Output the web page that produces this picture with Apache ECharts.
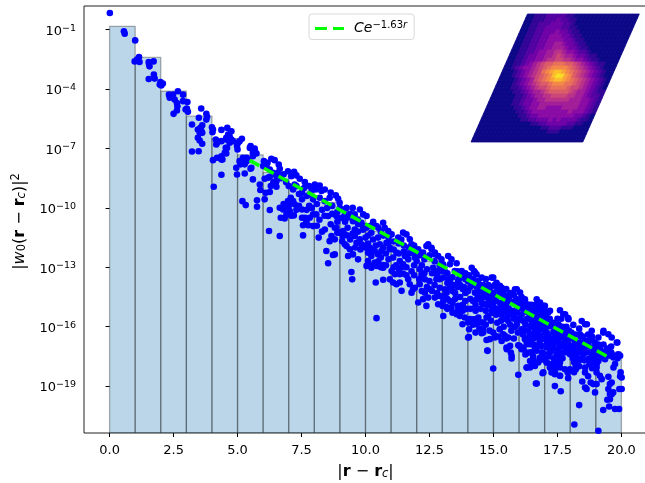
<!DOCTYPE html>
<html><head><meta charset="utf-8">
<style>html,body{margin:0;padding:0;background:#fff;overflow:hidden}#c{width:645px;height:483px}</style>
<script src="https://cdn.jsdelivr.net/npm/echarts@6/dist/echarts.min.js"></script>
</head><body><div id="c"></div>
<script>
const binLeftEdges=[0,1,2,3,4,5,6,7,8,9,10,11,12,13,14,15,16,17,18,19];
const binTopExp=[-0.83,-2.40,-4.11,-5.37,-6.5,-7.32,-8.21,-8.97,-9.72,-10.43,-11.19,-11.89,-12.7,-13.35,-14.16,-14.77,-15.47,-16.18,-16.78,-17.29];
const fitR=[5.47,19.5];
const fitExp=[-7.6,-17.54];
const xTicks=[0,2.5,5,7.5,10,12.5,15,17.5,20];
const yTickExp=[-1,-4,-7,-10,-13,-16,-19];
const scatterLow=[[0.01,-0.16],[0.56,-1.08],[0.59,-1.2],[1.0,-1.54],[0.98,-2.6],[1.15,-2.38],[1.17,-2.63],[1.07,-2.51],[1.53,-2.63],[1.72,-2.6],[1.56,-2.85],[1.54,-2.73],[1.53,-3.49],[1.73,-3.27],[1.76,-3.47],[1.99,-3.64],[2.08,-3.72],[2.02,-3.82],[1.96,-3.77],
[2.67,-4.11],[2.87,-4.28],[2.32,-4.28],[2.39,-4.31],[2.48,-4.28],[2.35,-4.44],[2.54,-4.53],[2.63,-4.7],[2.65,-4.87],[2.63,-5.08],[2.5,-5.25],[2.87,-4.61],[3.04,-4.65],[3.02,-4.98],[3.06,-5.15],[2.97,-5.03],
[3.58,-4.98],[3.49,-5.45],[3.78,-5.25],[3.81,-5.4],[3.78,-5.54],[3.22,-5.79],[3.62,-5.83],[3.55,-5.96],[3.45,-6.04],[3.58,-6.09],[3.52,-6.21],[3.62,-6.21],[3.45,-6.46],[3.52,-6.6],[3.62,-6.76],[3.22,-7.15],[3.48,-7.14],
[4.0,-5.93],[4.04,-6.04],[4.02,-6.18],[4.37,-6.06],[4.6,-5.96],[4.15,-6.55],[4.2,-6.71],[4.37,-6.63],[4.56,-6.46],[4.63,-6.3],[4.54,-6.97],[4.5,-7.22],[4.37,-7.39],[4.37,-7.56],[4.2,-7.47],[4.04,-7.59],[4.37,-8.33],[4.07,-8.93],[4.76,-6.13],[4.69,-6.38],[4.56,-6.55],[4.76,-6.55],[4.17,-6.8],[4.69,-6.71],[4.59,-6.97],[4.56,-7.25],[4.41,-7.56],
[5.02,-6.71],[4.98,-6.88],[5.17,-6.51],[5.48,-6.97],[5.67,-7.0],[5.6,-7.22],[5.74,-7.25],[5.21,-7.47],[5.35,-7.47],[5.15,-7.72],[5.28,-7.72],[5.41,-7.56],[5.54,-7.97],[4.95,-7.97],[4.98,-8.31],[5.28,-8.26],[5.6,-8.56],[5.87,-8.82],[5.89,-9.1],[5.19,-9.66],[5.32,-9.86],[5.76,-9.62],[5.76,-9.94],[6.1,-9.24],[6.06,-9.57],[6.26,-9.2],[4.82,-6.63],[5.08,-6.63],[5.0,-7.05],[5.51,-6.88],[5.64,-7.05],[5.71,-7.22],[5.6,-7.39],[5.08,-7.64],[5.35,-7.64],[5.12,-7.8],[5.28,-7.8],[5.51,-8.02],[6.26,-10.11],[6.23,-11.17],[6.65,-11.42],
[6.03,-7.64],[6.17,-7.72],[6.32,-7.52],[6.45,-7.59],[6.61,-7.81],[6.65,-8.02],[6.0,-7.89],[6.13,-7.89],[6.26,-8.06],[6.39,-8.23],[6.52,-8.4],[6.58,-8.23],[6.52,-8.65],[6.52,-8.93],[6.26,-8.43],[6.06,-8.53],[6.19,-8.48],
[6.97,-8.15],[7.21,-8.18],[7.3,-8.36],[7.43,-8.53],[7.23,-8.82],[7.63,-8.7],[7.17,-9.07],[7.52,-9.23],[7.52,-9.57],[7.08,-9.49],[7.17,-9.66],[6.97,-9.66],[7.23,-9.82],[6.91,-9.99],[6.65,-9.99],[6.78,-10.08],[7.04,-10.16],[6.91,-10.33],[7.2,-10.38],[6.69,-10.5],[6.84,-10.53],[7.52,-10.08],[7.52,-10.5],[7.56,-11.39],
[6.3,-8.9],[6.4,-8.7],[6.7,-8.5],[6.8,-8.3],[6.9,-8.7],[7.0,-8.9],[7.1,-8.4],[7.3,-8.9],[7.4,-9.3],[7.6,-9.0],[7.8,-8.9],[7.9,-9.1],[7.4,-9.9],[7.3,-10.1],[7.0,-9.9],[6.8,-9.8],[7.1,-10.4],[7.7,-10.1]];
const scatterMid=[[8.02,-8.82],[8.06,-9.07],[8.28,-9.15],[7.82,-9.32],[7.95,-9.57],[8.21,-9.49],[8.41,-9.66],[8.6,-9.49],[7.56,-10.88],[7.69,-10.67],[7.76,-10.88],[7.95,-10.33],[8.08,-10.33],[7.63,-10.5],[7.82,-10.5],[7.95,-10.92],[8.17,-11.5],[8.47,-12.18],[8.73,-12.38],[8.54,-12.8],[8.41,-11.09],[8.54,-10.41],[8.64,-10.83],[8.8,-11.0],[8.67,-11.42],[8.6,-11.68],[8.8,-11.59],[8.99,-11.25],[8.93,-9.54],[8.99,-9.74],[9.19,-10.08],[9.06,-10.5],[9.12,-11.42],[9.19,-11.84],[8.21,-8.87],[8.41,-9.07],[8.64,-9.22],[8.84,-9.37],
[9.26,-10],[9.19,-10.33],[8.86,-10.41],[8.86,-11],[8.9,-11.25],[9.12,-11.17],[9.19,-11.34],[9.09,-11.68],[9.26,-11.93],[8.8,-12.35],[9.32,-12.43],[9.51,-12.35],[9.71,-12.6],[9.45,-13.24],[9.48,-13.61],[10.43,-15.57],
[9.58,-10.33],[9.78,-10.08],[9.91,-10.33],[10.04,-10.41],[9.51,-10.67],[9.58,-11.09],[9.71,-10.83],[9.84,-10.75],[9.58,-11.42],[9.78,-11.59],[9.65,-11.76],[9.84,-11.84],[9.39,-12.09],
[9.91,-10.92],[10.04,-11],[10.23,-11.25],[10.49,-11.5],[10.69,-10.75],[10.75,-11],[10.89,-11.17],[10.43,-10.92],[10.17,-12.01],[10.1,-12.26],[10.36,-12.18],[10.56,-11.84],[10.49,-12.35],[10.23,-12.43],[10.1,-12.68],[10.04,-12.93],[10.23,-13.02],[10.43,-12.93],[10.36,-12.76],[10.62,-12.18],[10.89,-11.76],[10.95,-12.09],[10.69,-13.02],[10.69,-12.89],[10.4,-13.77],[10.69,-13.63],
[11.02,-11.34],[11.28,-11.5],[11.47,-11.25],[11.6,-11.34],[11.73,-11.59],[11.8,-11.84],[10.82,-11.76],[10.95,-12.01],[11.21,-12.26],[11.08,-12.51],[11.34,-12.68],[11.54,-12.43],[11.67,-12.6],[11.86,-12.26],[11.93,-12.51],[11.02,-13.19],[11.15,-13.35],[11.34,-13.35],[11.47,-13.32],[10.95,-13.61],[11.08,-13.77],[11.21,-13.86],[11.34,-13.77],[11.41,-14.19],[11.67,-13.61],[11.73,-13.86],[11.47,-12.85],
[12.06,-12.09],[12.25,-12.26],[12.45,-11.84],[12.58,-12.01],[12.71,-12.26],[12.84,-12.43],[12,-12.68],[12.12,-13.1],[12.19,-13.35],[12.32,-13.61],[12.12,-13.86],[11.93,-14.03],[11.8,-14.28],[12.06,-14.78],[12.38,-14.95],[11.86,-14.11],[12.32,-14.28],[12.45,-14.53],[12.25,-14.61],[12.71,-14.53],[12.77,-13.61],[12.64,-13.02],[12.97,-12.6],[13.03,-12.85],[12.77,-13.19],[12.9,-14.03],[12.84,-14.87],[12.38,-11.93],[12.58,-12.09],[12.71,-12.35],[13.23,-12.43],[13.36,-12.6],[13.56,-12.8],[13.76,-13.19]];
const scatterHigh=[[13.04,-12.94],[13.3,-12.85],[13.49,-13.19],[13.04,-13.52],[13.1,-14.11],[12.91,-14.45],[13.04,-14.7],[13.01,-14.95],[13.04,-15.46],[13.36,-15.04],[13.62,-14.95],[13.56,-15.37],[13.69,-15.46],[13.79,-15.88],[13.88,-15.54],[14.01,-15.79],[14.05,-16.13],[14.01,-16.55],[13.17,-14.28],[13.3,-13.69],[13.62,-13.69],[13.82,-13.44],[14.15,-13.02],[14.28,-13.27],[14.54,-13.52],[14.01,-14.2],[14.28,-14.28],[14.15,-13.86],[14.47,-14.62],[14.67,-14.87],[14.21,-15.63],[14.41,-15.54],[14.54,-15.79],[14.34,-15.88],[14.6,-16.13],[14.54,-16.33],[14.73,-16.67],[14.99,-16.3],[15.06,-16.55],[14.77,-17.22],[14.99,-18.11],[14.8,-15.46],[14.93,-15.12],[14.93,-13.52],[15.12,-13.78],[15.32,-14.03],[15.06,-14.53],[15.25,-14.79],[15.45,-14.45],[15.19,-15.21],[15.38,-14.87],[15.51,-15.29],[15.64,-14.7],[15.58,-15.71],[15.25,-16.13],[15.38,-16.38],[15.58,-16.55],[15.51,-17.05],[15.68,-17.31],[15.71,-17.61],[15.32,-16.72],[15.91,-14.11],[16.04,-14.28],[16.23,-14.62],[15.84,-14.7],[15.77,-15.21],[16.04,-15.63],[15.91,-15.88],[16.3,-15.63],[16.43,-15.21],[16.1,-16.13],[16.23,-16.63],[15.97,-16.94],[16.1,-17.14],[15.97,-18.43],[16.3,-18.06],[16.43,-17.73],[16.62,-17.98],[16.69,-18.87],[16.69,-14.62],[16.36,-16.89],[16.62,-15.88],[16.75,-16.21],[16.49,-17.31],[16.17,-17.14],
[13.2,-13.3],[13.4,-13.5],[13.6,-13.2],[13.7,-13.9],[13.9,-13.6],[13.3,-14.0],[13.5,-14.3],[13.7,-14.5],[13.9,-14.3],[13.2,-14.6],[13.4,-14.8],[13.8,-14.9],[14.1,-14.6],[14.3,-14.9],[14.5,-14.2],[14.6,-13.9],[14.8,-14.2],[14.4,-13.7],[14.7,-13.6],[14.9,-14.7],[15.0,-14.3],[15.2,-14.4],[15.4,-14.2],[15.5,-14.8],[15.7,-14.4],[15.9,-14.6],[15.0,-15.0],[15.3,-15.4],[15.6,-15.1],[15.8,-15.6],[16.0,-15.1],[16.2,-15.0],[16.4,-14.9],[16.1,-14.8],
[14.24,-13.19],[14.34,-13.36],[14.99,-13.52],[15.25,-13.94],[15.84,-14.11],[16.17,-14.62],[16.82,-14.78],[17.01,-14.95],[17.21,-15.2],[17.8,-15.37],[17.93,-15.62],[18.45,-15.71],[18.65,-15.88],[18.84,-16.21],[19.3,-16.21],[19.49,-16.38],[19.62,-16.55],[19.82,-16.8],
[14.08,-15.62],[14.34,-15.62],[14.6,-15.79],[14.73,-15.54],[14.6,-16.3],[14.86,-16.63],[15.06,-16.46],[15.25,-16.13],[15.45,-16.46],[15.65,-16.97],[15.71,-17.47],[15.52,-17.14],[16.02,-16.97],[16.17,-17.05],[16.36,-17.31],[16.62,-17.94],[16.3,-18.06],[16.49,-17.81],[16.95,-17.64],[17.08,-17.81],[17.21,-18.06],[16.95,-18.31],[17.41,-18.31],[17.6,-18.48],[17.54,-17.47],[17.6,-17.81],[14.76,-17.2],[14.04,-16.53]];
const scatterTail=[[16.75,-14.95],[16.95,-14.95],[17.01,-15.2],[16.82,-15.12],[17.14,-15.29],[17.6,-15.17],[17.73,-15.37],[17.92,-15.57],[18.12,-15.91],[18.58,-15.88],[19.29,-16.3],[19.84,-16.8],[19.1,-16.55],[18.71,-16.72],[18.38,-16.38],[19.95,-17.47],[19.88,-17.39],[19.69,-17.56],[19.16,-17.22],[18.97,-17.81],[19.1,-17.73],[19.03,-18.06],[19.23,-18.65],[19.49,-18.53],[19.55,-18.9],[19.49,-19.15],[19.62,-19.41],[19.55,-19.66],[19.45,-19.69],[19.52,-20.03],[19.29,-20.21],[19.75,-20.16],[19.91,-20.16],[19.92,-19.15],[20.01,-19.15],[19.97,-18.31],[20.01,-18.57],[19.69,-18.06],[19.36,-17.64],[19.03,-18.31],[18.97,-19.32],[18.8,-18.82],[18.9,-18.9],[19.03,-18.9],[18.47,-18.77],[18.58,-19.07],[18.64,-19.15],[18.35,-19.96],[18.16,-20.94],[19.1,-21.26],[17.63,-19.26],[17.4,-19.0],[16.66,-18.87],[16.92,-18.35],[17.21,-18.06],[17.4,-18.4],[17.6,-18.48],[17.27,-18.31],[17.9,-18.31],[17.99,-18.15],[17.92,-18.6],[18.21,-17.98],[18.22,-18.15],[18.58,-18.06],[18.58,-18.31],[17.99,-17.39],[18.12,-17.05],[18.45,-17.14],[18.25,-17.56],[18.51,-17.39],[18.71,-17.64],[18.84,-17.39],[17.21,-17.3],[17.47,-17.39],[17.6,-17.64],[17.4,-17.81],[16.95,-17.64],[17.08,-17.81],[16.62,-17.89],[16.49,-17.3],[16.56,-16.89],[16.75,-16.55],[17.01,-16.63],[17.4,-16.55],[17.66,-16.97],[17.53,-16.3],[17.34,-16.3],[17.79,-16.72],[16.49,-15.88],[16.69,-16.04],[16.88,-16.13],[17.08,-16.3],[16.43,-16.38],
[19.16,-17.39],[18.97,-17.56],[19.23,-17.56],[19.55,-17.47],[19.75,-17.47],[19.75,-17.89],[19.03,-17.9],[19.16,-18.48],[19.62,-18.82],[19.55,-19.4],[19.68,-19.32],[19.95,-18.5],[18.06,-16.97],[18.19,-16.72],[18.38,-16.8],[18.58,-16.72],[17.99,-17.22],[18.12,-17.39],[18.38,-17.05],[18.71,-16.97],[18.9,-17.05],[19.1,-16.9],[18.97,-16.8],
[17.21,-16.72],[17.34,-16.9],[17.53,-16.72],[17.27,-17.22],[17.53,-17.14],[17.73,-16.88],[17.86,-17.05],[17.66,-16.55],[17.47,-17.81],[17.27,-17.89],[17.6,-18.06],[17.79,-18.15],[17.34,-18.23],[17.4,-18.06],[16.43,-16.72],[16.62,-16.55],[16.82,-16.47],[17.01,-16.3],[17.08,-17.05],[16.88,-16.97],[16.69,-17.22],[16.49,-17.73],[16.62,-17.14],[16.82,-17.56],[17.01,-17.39],[16.75,-17.81],[16.43,-18.06],[16.56,-17.64],[16.49,-15.37],[16.69,-15.54],[16.88,-15.79],[16.62,-15.29],[16.43,-15.62],[16.56,-16.04],[16.82,-16.04],[17.01,-15.88]];
const scatterDense=[[8.1,-9.8],[8.3,-10.1],[8.5,-10.0],[8.7,-9.9],[8.9,-10.2],[8.2,-10.6],[8.4,-10.4],[8.7,-10.3],[8.9,-10.7],[7.8,-9.9],[7.7,-9.4],[7.9,-10.0],[8.1,-10.9],[8.3,-11.2],
[9.0,-10.0],[9.2,-10.7],[9.3,-10.5],[9.4,-10.3],[9.5,-10.0],[9.3,-11.0],[9.5,-11.3],[9.7,-11.2],[9.9,-11.1],[10.0,-11.5],[9.4,-11.6],[9.6,-12.0],[9.8,-12.1],[10.0,-12.0],[9.3,-11.4],[9.9,-11.9],[9.7,-10.6],
[10.2,-10.9],[10.3,-10.7],[10.5,-11.0],[10.6,-11.2],[10.7,-11.4],[10.9,-11.5],[10.1,-11.4],[10.3,-11.6],[10.4,-11.9],[10.6,-12.5],[10.8,-12.3],[10.3,-12.2],[10.5,-12.7],[10.7,-12.0],[10.9,-12.6],[10.2,-12.9],[10.6,-13.0],[10.8,-12.9],[10.1,-11.8],
[11.1,-11.7],[11.3,-11.8],[11.4,-11.6],[11.5,-11.9],[11.7,-12.0],[11.9,-11.9],[11.1,-12.1],[11.3,-12.3],[11.5,-12.2],[11.7,-12.3],[11.9,-12.9],[11.2,-12.9],[11.4,-13.0],[11.6,-13.0],[11.8,-13.2],[11.9,-13.4],[11.1,-13.0],[11.6,-13.4],[11.3,-13.1],
[12.1,-12.4],[12.3,-12.6],[12.5,-12.4],[12.7,-12.7],[12.9,-12.9],[12.2,-12.9],[12.4,-13.1],[12.6,-13.3],[12.8,-13.4],[12.3,-13.3],[12.5,-13.7],[12.7,-13.9],[12.9,-13.6],[12.1,-13.6],[12.4,-14.0],[12.6,-14.2],[12.8,-14.3],[12.2,-14.2],[12.9,-13.2],[12.5,-14.1],
[13.1,-13.2],[13.2,-13.8],[13.4,-14.2],[13.6,-14.0],[13.8,-14.1],[13.9,-13.3],[13.1,-14.4],[13.3,-14.7],[13.5,-14.6],[13.7,-15.0],[13.9,-14.7],[13.2,-15.1],[13.4,-15.3],[13.6,-15.2],[13.8,-15.2],[13.95,-15.1],[13.15,-15.0],
[14.05,-13.4],[14.2,-13.6],[14.35,-14.0],[14.5,-13.9],[14.65,-14.3],[14.8,-13.9],[14.9,-14.0],[14.1,-14.0],[14.2,-14.7],[14.4,-14.4],[14.6,-14.5],[14.8,-14.6],[14.95,-15.3],[14.1,-15.1],[14.3,-15.2],[14.5,-15.1],[14.7,-15.2],[14.9,-15.7],[14.2,-15.9],[14.45,-16.1],[14.7,-15.9],[14.85,-16.2],[14.3,-16.3],
[15.05,-13.9],[15.2,-14.1],[15.35,-14.4],[15.5,-14.1],[15.65,-14.3],[15.8,-14.4],[15.95,-14.9],[15.1,-14.7],[15.3,-14.9],[15.5,-15.0],[15.7,-15.2],[15.9,-15.3],[15.1,-15.4],[15.3,-15.7],[15.45,-15.6],[15.65,-15.9],[15.85,-16.0],[15.15,-15.8],[15.4,-16.0],[15.7,-16.2],[15.95,-16.3],[15.2,-16.5],[15.5,-16.6],[15.8,-16.6],
[16.1,-14.5],[16.25,-14.8],[16.35,-15.3],[16.5,-14.9],[16.65,-14.9],[16.8,-15.4],[16.95,-15.4],[16.1,-15.4],[16.25,-15.9],[16.45,-16.0],[16.65,-15.7],[16.85,-15.7],[16.2,-16.2],[16.4,-16.5],[16.6,-16.3],[16.8,-16.8],[16.95,-16.1],[16.3,-16.8],[16.5,-16.9],[16.7,-17.0],[16.9,-17.3],[16.25,-17.4],[16.55,-17.5],[16.8,-17.7],
[17.05,-15.5],[17.2,-15.6],[17.35,-15.8],[17.5,-15.6],[17.65,-15.6],[17.85,-16.0],[17.95,-16.2],[17.1,-16.0],[17.3,-16.0],[17.45,-16.1],[17.65,-16.2],[17.8,-16.4],[17.15,-16.5],[17.25,-16.9],[17.45,-16.8],[17.6,-17.0],[17.75,-17.3],[17.9,-16.8],[17.15,-17.5],[17.35,-17.6],[17.55,-17.9],[17.7,-17.6],
[18.05,-16.3],[18.2,-16.4],[18.35,-16.1],[18.5,-16.5],[18.7,-16.4],[18.85,-16.7],[18.1,-17.6],[18.3,-17.3],[18.45,-17.6],[18.6,-17.0],[18.8,-17.8],[18.95,-17.3],[18.15,-18.3],[18.35,-18.0],[18.7,-18.5],[18.85,-18.1],[19.15,-17.0],[19.3,-16.9],[19.45,-17.1],[19.6,-17.3],[19.85,-17.6],
[13.25,-13.6],[13.45,-13.9],[13.65,-13.6],[13.85,-14.0],[14.0,-13.7],[14.25,-13.9],[14.45,-14.1],[14.65,-14.1],[14.85,-14.4],[14.35,-14.6],[14.55,-14.8],[14.75,-14.9],[14.95,-14.9],[15.15,-14.1],[15.3,-14.3],[15.45,-14.6],[15.6,-14.5],[15.75,-14.8],[15.9,-14.9],[15.15,-15.1],[15.35,-15.2],[15.55,-15.5],[15.75,-15.4],[15.95,-15.6],[16.05,-14.7],[16.2,-15.2],[16.35,-15.0],[16.5,-15.2],[16.65,-15.2],[16.8,-15.2],[16.9,-15.6],[16.15,-15.7],[16.35,-15.6],[16.55,-15.6],[16.75,-15.9],[16.9,-15.9],[16.15,-16.4],[16.35,-16.2],[16.55,-16.6],[16.75,-16.4],[16.95,-16.6],[17.1,-15.7],[17.25,-15.9],[17.4,-16.0],[17.55,-15.9],[17.7,-16.0],[17.85,-16.3],[17.95,-16.5],[17.1,-16.4],[17.3,-16.6],[17.5,-16.5],[17.7,-16.5],[17.85,-16.6],[17.1,-16.8],[17.35,-17.1],[17.55,-17.3],[17.75,-17.0],[17.9,-17.3],[18.05,-16.6],[18.2,-16.9],[18.4,-16.5],[18.55,-16.9],[18.7,-16.7],[18.85,-16.5],[18.05,-17.2],[18.25,-17.2],[18.45,-16.9],[18.65,-17.3],[18.85,-17.1],[18.15,-17.8],[18.35,-17.7],[18.55,-17.7],[18.75,-17.9],[18.9,-17.6],[19.05,-17.1],[19.2,-17.2],[19.4,-17.3],[19.6,-17.0]];
const insetRows=[
"0011122222110000000000000000","0011122232211000000000000000","0011222333221000000000000000","0011223333221100000000000000",
"0011223334332110000000000000","0011223344433211000000000000","0011223344443321100000000000","0011223344554332110000000000",
"0011223344555433211000000000","0011223445566544322100000000","0011233445567655433211000000","0011233445667766544321100000",
"0011234567889998876543211000","001234456789aaaa987654321000","00012345679abccba98765432100","000123456789acfdba8765432100",
"000012345789abccba9876543210","00001234567889aaa99876543210","0000112345677899998776543210","0000011234556788888765543211",
"0000001123455667777665543221","0000001123345566666655544321","0000001123344555555555544321","0000000112344554444555544321",
"0000000011234444444445444321","0000000001123344444444433210","0000000000112233343433332110","0000000000000112233333221100",
"0000000000000000112221110000","0000000000000000001110000000","0000000000000000000000000000","0000000000000000000000000000"];

const FONT='"DejaVu Sans"';
const yMinExp=-21.37,yMaxExp=0.197;
const yMin=10**yMinExp;
const plasma=[[13,8,135],[65,4,157],[106,0,168],[143,13,164],[177,42,144],[204,71,120],[225,100,98],[241,131,76],[252,166,54],[252,206,37],[240,249,33]];
function plasmaColor(t){t=Math.max(0,Math.min(0.95,t))*10;const i=Math.min(9,Math.floor(t)),f=t-i;const a=plasma[i],b=plasma[i+1];
 return 'rgb('+[0,1,2].map(k=>Math.round(a[k]+(b[k]-a[k])*f)).join(',')+')';}
const scatterPoints=[].concat(scatterLow,scatterMid,scatterHigh,scatterTail,scatterDense).map(p=>[p[0],10**p[1]]);
const insetCells=[];
insetRows.forEach((row,i)=>{for(let j=0;j<row.length;j++)insetCells.push([j,i,parseInt(row[j],16)]);});
const nCols=insetRows[0].length,nRows=insetRows.length,skew=0.505;
const chart=echarts.init(document.getElementById('c'),null,{renderer:'canvas',width:645,height:483});
chart.setOption({
 animation:false,backgroundColor:'#fff',
 grid:[{left:84,top:6,width:563,height:427,show:true,borderColor:'#222',borderWidth:1,backgroundColor:'transparent',outerBoundsMode:'none'},
       {left:471,top:14,width:168.3,height:128,show:false,outerBoundsMode:'none'}],
 xAxis:[{type:'value',gridIndex:0,min:-1,max:21,splitLine:{show:false},axisLine:{show:false},
   axisTick:{show:true,length:4,lineStyle:{color:'#000',width:1},customValues:xTicks},
   axisLabel:{customValues:xTicks,fontFamily:FONT,fontSize:13,color:'#000',margin:11,formatter:v=>Number(v).toFixed(1)},
   name:'|{b|r} − {b|r}{i|c}|',nameLocation:'middle',nameGap:30,
   nameTextStyle:{fontFamily:FONT,fontSize:16,color:'#000',rich:{b:{fontWeight:'bold',fontFamily:FONT,fontSize:16,color:'#000'},i:{fontStyle:'italic',fontFamily:FONT,fontSize:11.5,color:'#000',padding:[5,0,0,0]}}}},
  {type:'value',gridIndex:1,min:0,max:1+skew,show:false}],
 yAxis:[{type:'log',logBase:10,gridIndex:0,min:yMin,max:10**yMaxExp,splitLine:{show:false},minorTick:{show:false},axisLine:{show:false},
   axisTick:{show:true,length:4,lineStyle:{color:'#000',width:1},customValues:yTickExp.map(e=>10**e)},
   axisLabel:{customValues:yTickExp.map(e=>10**e),fontFamily:FONT,fontSize:13,color:'#000',margin:8,padding:[4,0,0,0],
     formatter:v=>'10{s|−'+Math.round(-Math.log10(v))+'}',rich:{s:{fontSize:9.5,fontFamily:FONT,color:'#000',padding:[0,0,7,0]}}},
   name:'|{i|w}{sub|0}({b|r} − {b|r}{i2|c})|{s|2}',nameLocation:'middle',nameGap:54,nameRotate:90,
   nameTextStyle:{fontFamily:FONT,fontSize:16,color:'#000',padding:[0,4,0,0],rich:{i:{fontStyle:'italic',fontFamily:FONT,fontSize:16,color:'#000'},
     sub:{fontFamily:FONT,fontSize:11.5,color:'#000',padding:[5,0,0,0]},i2:{fontStyle:'italic',fontFamily:FONT,fontSize:11.5,color:'#000',padding:[5,0,0,0]},
     b:{fontWeight:'bold',fontFamily:FONT,fontSize:16,color:'#000'},s:{fontFamily:FONT,fontSize:11.5,color:'#000',padding:[0,0,7,0]}}}},
  {type:'value',gridIndex:1,min:0,max:1,show:false}],
 legend:{show:true,data:[{name:'fit',icon:'path://M0 0H12V3H0Z M18 0H29V3H18Z'}],symbolKeepAspect:false,left:309,top:14,padding:[6,7,4,6],itemWidth:29,itemHeight:3,itemGap:0,
   borderColor:'#d9d9d9',borderWidth:1,borderRadius:3,backgroundColor:'#fff',
   formatter:()=>'{i|Ce}{s|−1.63}{r|r}',textStyle:{fontFamily:FONT,fontSize:13,color:'#000',padding:[0,0,0,5],rich:{i:{fontStyle:'italic',fontFamily:FONT,fontSize:14,color:'#000'},s:{fontFamily:FONT,fontSize:10,color:'#000',padding:[0,0,7,0]},r:{fontStyle:'italic',fontFamily:FONT,fontSize:10,color:'#000',padding:[0,0,7,0]}}}},
 series:[
  {type:'custom',name:'hist',xAxisIndex:0,yAxisIndex:0,z:1,silent:true,clip:true,
   data:binLeftEdges.map((l,i)=>[l,10**binTopExp[i]]),
   renderItem:(p,api)=>{const l=api.value(0),t=api.value(1);const a=api.coord([l,t]),b=api.coord([l+1,yMin]);
     return {type:'rect',shape:{x:a[0],y:a[1],width:b[0]-a[0],height:b[1]-a[1]},style:{fill:'rgba(31,119,180,0.3)',stroke:'rgba(0,0,0,0.3)',lineWidth:1.3}};}},
  {type:'scatter',name:'pts',xAxisIndex:0,yAxisIndex:0,z:3,silent:true,symbol:'circle',symbolSize:6.6,itemStyle:{color:'#0000ff',opacity:1},data:scatterPoints,clip:false,large:false},
  {type:'line',name:'fit',xAxisIndex:0,yAxisIndex:0,z:4,silent:true,showSymbol:false,symbol:'none',data:fitR.map((r,i)=>[r,10**fitExp[i]]),
   lineStyle:{color:'#00ff00',width:3.5,type:[11,5.5]},itemStyle:{color:'#00ff00'}},
  {type:'custom',name:'inset',xAxisIndex:1,yAxisIndex:1,z:5,silent:true,clip:false,data:insetCells,
   renderItem:(p,api)=>{const j=api.value(0),i=api.value(1),val=api.value(2);
     const corner=(c,r)=>{const v=1-r/nRows,u=c/nCols;return api.coord([u+skew*v,v]);};
     const col=plasmaColor(val/14);
     return {type:'polygon',shape:{points:[corner(j,i),corner(j+1,i),corner(j+1,i+1),corner(j,i+1)]},style:{fill:col,stroke:col,lineWidth:0.8}};}}
 ]
});
</script></body></html>
